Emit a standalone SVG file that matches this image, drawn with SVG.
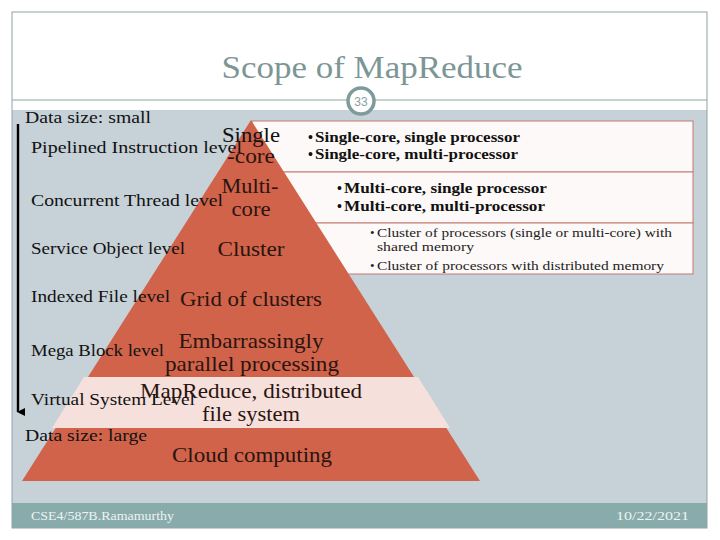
<svg xmlns="http://www.w3.org/2000/svg" width="720" height="540" viewBox="0 0 720 540">
<defs>
<style>
.lbl{font-family:"Liberation Serif",serif;font-size:17px;fill:#111}
.pyr{font-family:"Liberation Serif",serif;font-size:21px;fill:#2a1410}
.pyl{font-family:"Liberation Serif",serif;font-size:21px;fill:#111}
.bul{font-family:"Liberation Serif",serif;font-size:14px;font-weight:bold;fill:#111}
.bul2{font-family:"Liberation Serif",serif;font-size:13px;fill:#222}
.foot{font-family:"Liberation Serif",serif;font-size:13px;fill:#eef3f3}
.box{fill:#fdf9f8;stroke:#c27b72;stroke-width:1}
</style>
<marker id="arr" markerWidth="8" markerHeight="8" refX="4" refY="7" orient="auto" markerUnits="userSpaceOnUse">
<path d="M0,0 L8,0 L4,8 Z" fill="#000"/>
</marker>
</defs>
<rect x="0" y="0" width="720" height="540" fill="#ffffff"/>
<rect x="12" y="110" width="695" height="393" fill="#c7d1d8"/>
<rect x="12" y="503" width="695" height="25" fill="#88abab"/>
<rect x="12" y="12" width="695" height="516" fill="none" stroke="#8fa3a3" stroke-width="1"/>
<line x1="12" y1="100" x2="707" y2="100" stroke="#8fa3a3" stroke-width="1"/>
<text x="372" y="78" text-anchor="middle" font-family="Liberation Serif, serif" font-size="31" fill="#7c9696" textLength="301" lengthAdjust="spacingAndGlyphs">Scope of MapReduce</text>
<g id="slide-number">
<circle cx="361" cy="101" r="13" fill="#ffffff" stroke="#7d9b9b" stroke-width="3.5"/>
<text x="361" y="106" text-anchor="middle" font-family="Liberation Sans, sans-serif" font-size="12" fill="#8a9f9f">33</text>
</g>
<g id="boxes">
<rect id="box1" class="box" x="252" y="121" width="441" height="51"/>
<rect id="box2" class="box" x="252" y="172" width="441" height="51"/>
<rect id="box3" class="box" x="252" y="223" width="441" height="51"/>
</g>
<g id="pyramid">
<polygon points="251,120 480,481 22,481" fill="#d0634a"/>
<polygon points="418,377 450,428 52,428 84,377" fill="#f6e0dc"/>
</g>
<g id="connectors">
<line x1="18" y1="124" x2="18" y2="412" stroke="#000" stroke-width="2.4" marker-end="url(#arr)"/>
</g>
<g id="left-labels">
<text class="lbl" x="25" y="123" textLength="126" lengthAdjust="spacingAndGlyphs">Data size: small</text>
<text class="lbl" x="31" y="153" textLength="211" lengthAdjust="spacingAndGlyphs">Pipelined Instruction level</text>
<text class="lbl" x="31" y="206" textLength="192" lengthAdjust="spacingAndGlyphs">Concurrent Thread level</text>
<text class="lbl" x="31" y="254" textLength="154" lengthAdjust="spacingAndGlyphs">Service Object level</text>
<text class="lbl" x="31" y="302" textLength="139" lengthAdjust="spacingAndGlyphs">Indexed File level</text>
<text class="lbl" x="31" y="356" textLength="133" lengthAdjust="spacingAndGlyphs">Mega Block level</text>
<text class="lbl" x="31" y="405" textLength="164" lengthAdjust="spacingAndGlyphs">Virtual System Level</text>
<text class="lbl" x="25" y="441" textLength="122" lengthAdjust="spacingAndGlyphs">Data size: large</text>
</g>
<g id="pyramid-labels">
<text class="pyl" x="251" y="142" text-anchor="middle" textLength="58" lengthAdjust="spacingAndGlyphs">Single</text>
<text class="pyr" x="251" y="163" text-anchor="middle" textLength="48" lengthAdjust="spacingAndGlyphs">-core</text>
<text class="pyr" x="250" y="193" text-anchor="middle" textLength="57" lengthAdjust="spacingAndGlyphs">Multi-</text>
<text class="pyr" x="251" y="216" text-anchor="middle" textLength="39" lengthAdjust="spacingAndGlyphs">core</text>
<text class="pyr" x="251" y="256" text-anchor="middle" textLength="67" lengthAdjust="spacingAndGlyphs">Cluster</text>
<text class="pyr" x="251" y="306" text-anchor="middle" textLength="142" lengthAdjust="spacingAndGlyphs">Grid of clusters</text>
<text class="pyr" x="251" y="348" text-anchor="middle" textLength="145" lengthAdjust="spacingAndGlyphs">Embarrassingly</text>
<text class="pyr" x="252" y="371" text-anchor="middle" textLength="174" lengthAdjust="spacingAndGlyphs">parallel processing</text>
<text class="pyr" x="251" y="398" text-anchor="middle" textLength="222" lengthAdjust="spacingAndGlyphs">MapReduce, distributed</text>
<text class="pyr" x="251" y="421" text-anchor="middle" textLength="98" lengthAdjust="spacingAndGlyphs">file system</text>
<text class="pyr" x="252" y="462" text-anchor="middle" textLength="160" lengthAdjust="spacingAndGlyphs">Cloud computing</text>
</g>
<g id="box1-text">
<text class="bul" x="308" y="142">•</text>
<text class="bul" x="315" y="142" textLength="205" lengthAdjust="spacingAndGlyphs">Single-core, single processor</text>
<text class="bul" x="308" y="159">•</text>
<text class="bul" x="315" y="159" textLength="203" lengthAdjust="spacingAndGlyphs">Single-core, multi-processor</text>
</g>
<g id="box2-text">
<text class="bul" x="337" y="193">•</text>
<text class="bul" x="344" y="193" textLength="203" lengthAdjust="spacingAndGlyphs">Multi-core, single processor</text>
<text class="bul" x="337" y="211">•</text>
<text class="bul" x="344" y="211" textLength="201" lengthAdjust="spacingAndGlyphs">Multi-core, multi-processor</text>
</g>
<g id="box3-text">
<text class="bul2" x="370" y="237">•</text>
<text class="bul2" x="377" y="237" textLength="295" lengthAdjust="spacingAndGlyphs">Cluster of processors (single or multi-core) with</text>
<text class="bul2" x="377" y="251" textLength="97" lengthAdjust="spacingAndGlyphs">shared memory</text>
<text class="bul2" x="370" y="270">•</text>
<text class="bul2" x="377" y="270" textLength="287" lengthAdjust="spacingAndGlyphs">Cluster of processors with distributed memory</text>
</g>
<g id="footer">
<text class="foot" x="31" y="520" textLength="143" lengthAdjust="spacingAndGlyphs">CSE4/587B.Ramamurthy</text>
<text class="foot" x="689" y="520" text-anchor="end" textLength="73" lengthAdjust="spacingAndGlyphs">10/22/2021</text>
</g>
</svg>
